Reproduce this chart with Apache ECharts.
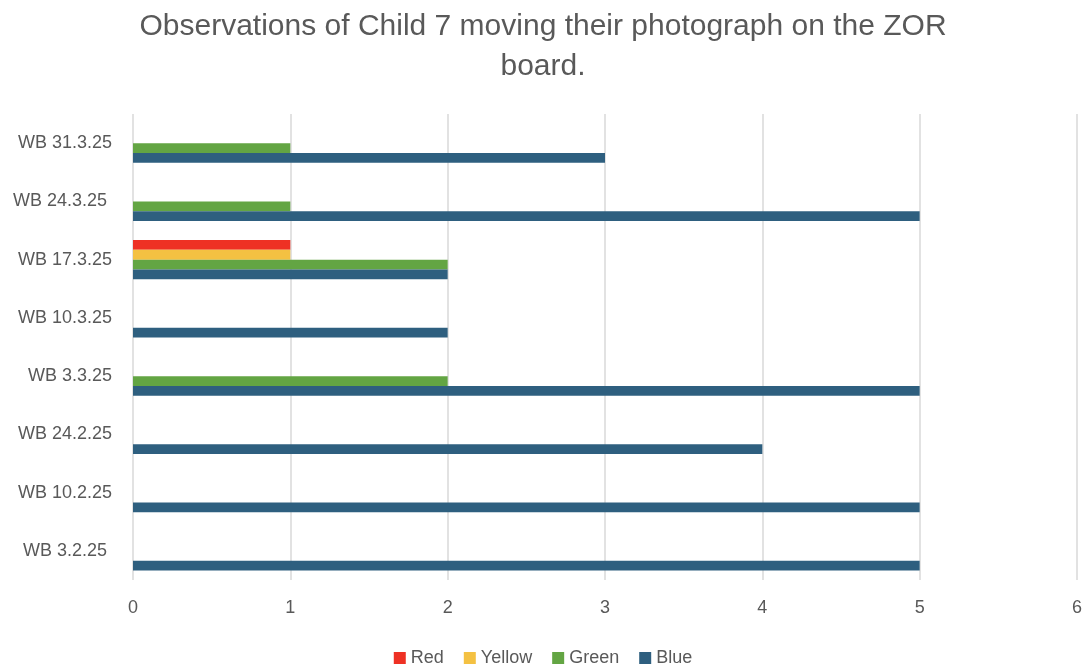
<!DOCTYPE html>
<html>
<head>
<meta charset="utf-8">
<script src="https://cdn.jsdelivr.net/npm/echarts@6/dist/echarts.min.js"></script>
<style>html,body{margin:0;padding:0;background:#fff}#c{width:1086px;height:666px}</style>
</head>
<body>
<div id="c"></div>
<script>
const categories = ['WB 3.2.25 ', 'WB 10.2.25', 'WB 24.2.25', 'WB 3.3.25', 'WB 10.3.25', 'WB 17.3.25', 'WB 24.3.25 ', 'WB 31.3.25'];
const seriesNames = ['Red', 'Yellow', 'Green', 'Blue'];
const redValues    = [0, 0, 0, 0, 0, 1, 0, 0];
const yellowValues = [0, 0, 0, 0, 0, 1, 0, 0];
const greenValues  = [0, 0, 0, 2, 0, 2, 1, 1];
const blueValues   = [5, 5, 4, 5, 2, 2, 5, 3];
const xTicks = [0, 1, 2, 3, 4, 5, 6];

const colors = ['#EE3124', '#F4C142', '#63A543', '#2E5F7F'];
const font = '"Liberation Sans Narrow", "Liberation Sans", sans-serif';
const chart = echarts.init(document.getElementById('c'));
const valuesList = [redValues, yellowValues, greenValues, blueValues];
chart.setOption({
  animation: false,
  title: {
    text: 'Observations of Child 7 moving their photograph on the ZOR\nboard.',
    left: 'center', top: 2,
    textStyle: { fontFamily: font, fontSize: 30, fontWeight: 'normal', color: '#595959', lineHeight: 40, align: 'center' }
  },
  legend: {
    data: seriesNames, top: 644, left: 'center', icon: 'rect', itemWidth: 12, itemHeight: 12, itemGap: 20,
    textStyle: { fontFamily: font, fontSize: 18, color: '#595959' }
  },
  grid: { left: 133, right: 9, top: 114, bottom: 86, containLabel: false },
  xAxis: {
    type: 'value', min: xTicks[0], max: xTicks[xTicks.length - 1], interval: 1,
    axisLine: { show: false }, axisTick: { show: false },
    axisLabel: { fontFamily: font, fontSize: 18, color: '#595959', margin: 19 },
    splitLine: { lineStyle: { color: '#d9d9d9', width: 1.5 } }
  },
  yAxis: {
    type: 'category', data: categories,
    axisLine: { show: false }, axisTick: { show: false },
    axisLabel: { fontFamily: font, fontSize: 18, color: '#595959', margin: 21 },
    splitLine: { show: false }
  },
  series: seriesNames.map((n, i) => ({
    name: n, type: 'bar', data: valuesList[i], barGap: '0%', barCategoryGap: '33%',
    itemStyle: { color: colors[i] }
  }))
});
</script>
</body>
</html>
